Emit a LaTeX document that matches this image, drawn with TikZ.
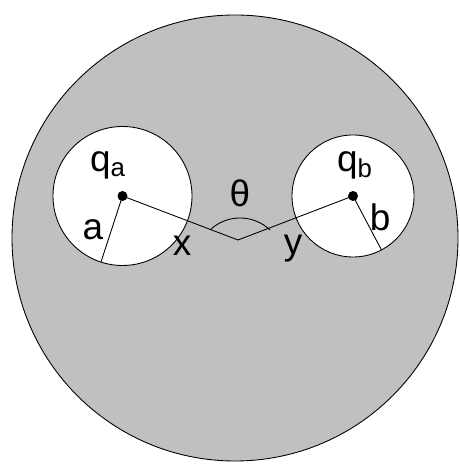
\documentclass[tikz,border=0pt]{standalone}
\usepackage{fontspec}
\setmainfont{Liberation Sans}
\definecolor{bulk}{RGB}{192,192,192}
\tikzset{
    dot/.style={circle,fill=black,inner sep=0pt,minimum size=0.2cm},
    lbl/.style={inner sep=0pt,font=\fontsize{21}{24}\selectfont}
}
\begin{document}
\begin{tikzpicture}[line width=0.5pt]
    \useasboundingbox (0,0) rectangle (9.18,9.28);

    % Surrounding medium
    \draw[fill=bulk] (4.70,4.52) circle (4.46);

    % Cavities of the two ions
    \draw[fill=white] (2.45,5.36) circle (1.39);
    \draw[fill=white] (7.06,5.36) circle (1.22);

    % Centres and bend point
    \node[dot] (qa) at (2.45,5.36) {};
    \node[dot] (qb) at (7.06,5.36) {};
    \coordinate (v) at (4.76,4.48);
    \coordinate (ra) at (2.02,4.04);
    \coordinate (rb) at (7.63,4.28);

    % Distances and radii
    \draw (qa.center) -- (v) -- (qb.center);
    \draw (qa.center) -- (ra);
    \draw (qb.center) -- (rb);

    % Angle
    \draw (4.20,4.68) arc (133.6:46.4:0.87);

    % Labels
    \node[lbl] (la) at (2.16,5.98) {q\textsubscript{a}};
    \node[lbl] (lb) at (7.10,5.98) {q\textsubscript{b}};
    \node[lbl] (lt) at (4.80,5.42) {θ};
    \node[lbl] (lra) at (1.86,4.68) {a};
    \node[lbl] (lrb) at (7.60,4.94) {b};
    \node[lbl] (lx) at (3.64,4.36) {x};
    \node[lbl] (ly) at (5.86,4.30) {y};
\end{tikzpicture}
\end{document}
